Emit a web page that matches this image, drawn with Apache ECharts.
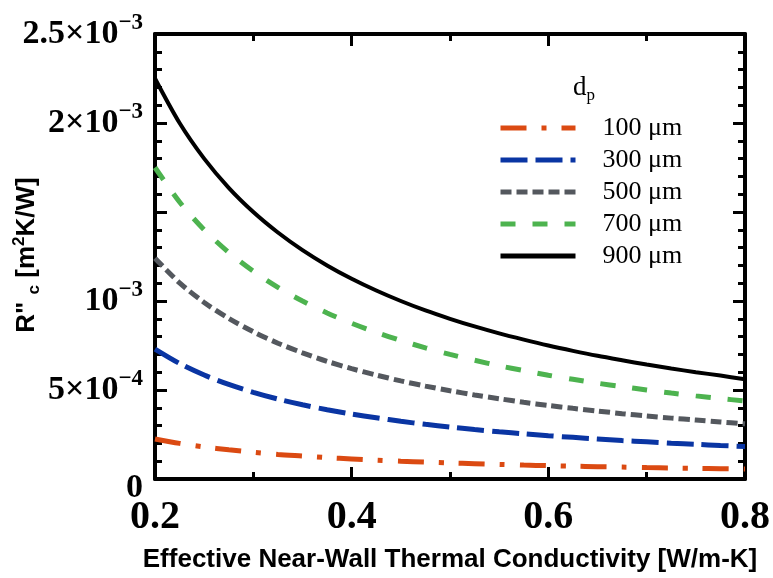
<!DOCTYPE html>
<html>
<head>
<meta charset="utf-8">
<script src="https://cdn.jsdelivr.net/npm/echarts@6/dist/echarts.min.js"></script>
<style>html,body{margin:0;padding:0;background:#fff;}#c{width:773px;height:578px;}</style>
</head>
<body>
<div id="c"></div>
<script>
var kValues = [0.2, 0.225, 0.25, 0.275, 0.3, 0.325, 0.35, 0.375, 0.4, 0.425, 0.45, 0.475, 0.5, 0.525, 0.55, 0.575, 0.6, 0.625, 0.65, 0.675, 0.7, 0.725, 0.75, 0.775, 0.8];
var r100 = [2.25e-4, 2.0e-4, 1.8e-4, 1.64e-4, 1.5e-4, 1.38e-4, 1.29e-4, 1.2e-4, 1.13e-4, 1.06e-4, 1.0e-4, 9.5e-5, 9.0e-5, 8.6e-5, 8.2e-5, 7.8e-5, 7.5e-5, 7.2e-5, 6.9e-5, 6.7e-5, 6.4e-5, 6.2e-5, 6.0e-5, 5.8e-5, 5.6e-5];
var r300 = [7.30e-4, 6.49e-4, 5.84e-4, 5.31e-4, 4.87e-4, 4.49e-4, 4.17e-4, 3.89e-4, 3.65e-4, 3.44e-4, 3.24e-4, 3.07e-4, 2.92e-4, 2.78e-4, 2.65e-4, 2.54e-4, 2.43e-4, 2.34e-4, 2.25e-4, 2.16e-4, 2.09e-4, 2.01e-4, 1.95e-4, 1.88e-4, 1.83e-4];
var r500 = [1.24e-3, 1.102e-3, 9.92e-4, 9.02e-4, 8.27e-4, 7.63e-4, 7.09e-4, 6.61e-4, 6.20e-4, 5.84e-4, 5.51e-4, 5.22e-4, 4.96e-4, 4.72e-4, 4.51e-4, 4.31e-4, 4.13e-4, 3.97e-4, 3.82e-4, 3.67e-4, 3.54e-4, 3.42e-4, 3.31e-4, 3.20e-4, 3.10e-4];
var r700 = [1.75e-3, 1.556e-3, 1.40e-3, 1.273e-3, 1.167e-3, 1.077e-3, 1.0e-3, 9.33e-4, 8.75e-4, 8.24e-4, 7.78e-4, 7.37e-4, 7.0e-4, 6.67e-4, 6.36e-4, 6.09e-4, 5.83e-4, 5.6e-4, 5.38e-4, 5.19e-4, 5.0e-4, 4.83e-4, 4.67e-4, 4.52e-4, 4.38e-4];
var r900 = [2.25e-3, 2.0e-3, 1.80e-3, 1.636e-3, 1.50e-3, 1.385e-3, 1.286e-3, 1.20e-3, 1.125e-3, 1.059e-3, 1.0e-3, 9.47e-4, 9.0e-4, 8.57e-4, 8.18e-4, 7.83e-4, 7.5e-4, 7.2e-4, 6.92e-4, 6.67e-4, 6.43e-4, 6.21e-4, 6.0e-4, 5.81e-4, 5.6e-4];
var seriesNames = ['100 \u03bcm', '300 \u03bcm', '500 \u03bcm', '700 \u03bcm', '900 \u03bcm'];
var xTickLabels = ['0.2', '0.4', '0.6', '0.8'];
var yTickLabels = {0: '{z|0}', 5: '{m|5\u00d710}{s|\u22124}', 10: '{m|10}{s|\u22123}', 15: '', 20: '{m|2\u00d710}{s|\u22123}', 25: '{m|2.5\u00d710}{s|\u22123}'};

function pairs(arr) { return kValues.map(function (k, i) { return [k, arr[i]]; }); }

var chart = echarts.init(document.getElementById('c'), null, {renderer: 'canvas'});
var serif = '"Liberation Serif", "Times New Roman", serif';
var sans = '"Liberation Sans", Arial, sans-serif';
var tickCommon = {show: true, inside: true, length: 12, lineStyle: {color: '#000', width: 3}};
var minorCommon = {show: true, length: 7, lineStyle: {color: '#000', width: 3}};
var lineCommon = {show: true, onZero: false, lineStyle: {color: '#000', width: 4}};

var styles = [
  {color: '#DB4A12', width: 5, type: [26, 15, 5, 15]},
  {color: '#0A35A3', width: 5, type: [27, 8]},
  {color: '#54585E', width: 5, type: [11, 5]},
  {color: '#4DB34F', width: 5, type: [15, 17]},
  {color: '#000000', width: 4, type: 'solid'}
];
var dataSets = [r100, r300, r500, r700, r900];

chart.setOption({
  animation: false,
  backgroundColor: '#fff',
  grid: {left: 155, right: 25, top: 34, bottom: 91, containLabel: false},
  xAxis: [{
    type: 'value', min: 0.2, max: 0.8, interval: 0.2,
    axisLine: lineCommon, axisTick: tickCommon,
    minorTick: Object.assign({splitNumber: 2}, minorCommon),
    splitLine: {show: false},
    axisLabel: {margin: 19, fontFamily: serif, fontWeight: 'bold', fontSize: 40, color: '#000',
      formatter: function (v) { var i = Math.round((v - 0.2) / 0.2); return xTickLabels[i] || ''; }},
    name: 'Effective Near-Wall Thermal Conductivity [W/m-K]', nameLocation: 'middle', nameGap: 68,
    nameTextStyle: {fontFamily: sans, fontWeight: 'bold', fontSize: 26, color: '#000'}
  }, {
    type: 'value', min: 0.2, max: 0.8, interval: 0.2, position: 'top',
    axisLine: lineCommon, axisTick: tickCommon,
    minorTick: Object.assign({splitNumber: 2}, minorCommon),
    splitLine: {show: false}, axisLabel: {show: false}
  }],
  yAxis: [{
    type: 'value', min: 0, max: 2.5e-3, interval: 5e-4,
    axisLine: lineCommon, axisTick: tickCommon,
    minorTick: Object.assign({splitNumber: 5}, minorCommon),
    splitLine: {show: false},
    axisLabel: {margin: 12, color: '#000',
      formatter: function (v) { var i = Math.round(v * 1e4); return yTickLabels[i] !== undefined ? yTickLabels[i] : ''; },
      rich: {
        m: {fontFamily: serif, fontWeight: 'bold', fontSize: 34, lineHeight: 44, verticalAlign: 'middle', color: '#000'},
        z: {fontFamily: serif, fontWeight: 'bold', fontSize: 34, lineHeight: 44, verticalAlign: 'middle', color: '#000', padding: [18, 0, 0, 0]},
        s: {fontFamily: serif, fontWeight: 'bold', fontSize: 23, lineHeight: 22, verticalAlign: 'top', color: '#000'}
      },
      fontFamily: serif, fontWeight: 'bold', fontSize: 34
    }
  }, {
    type: 'value', min: 0, max: 2.5e-3, interval: 5e-4, position: 'right',
    axisLine: lineCommon, axisTick: tickCommon,
    minorTick: Object.assign({splitNumber: 5}, minorCommon),
    splitLine: {show: false}, axisLabel: {show: false}
  }],
  legend: {
    orient: 'vertical', left: 493, top: 110, itemWidth: 75, itemHeight: 10, itemGap: 6,
    itemStyle: {opacity: 0},
    data: seriesNames.map(function (n, i) {
      return {name: n, lineStyle: {color: styles[i].color, width: i === 4 ? 5 : styles[i].width, type: styles[i].type, cap: 'butt'}};
    }),
    textStyle: {fontFamily: serif, fontSize: 26, lineHeight: 25, color: '#000', padding: [0, 0, 0, 22]}
  },
  graphic: [
    {type: 'text', left: 573, top: 74, style: {rich: {d: {fontFamily: serif, fontSize: 27, fill: '#000'}, p: {fontFamily: serif, fontSize: 17, fill: '#000', verticalAlign: 'bottom', lineHeight: 34}}, text: '{d|d}{p|p}'}},
    {type: 'text', x: 27, y: 255, rotation: Math.PI / 2, style: {
      text: '{a|R" }{b|c}{a| [m}{c|2}{a|K/W]}', align: 'center', verticalAlign: 'middle',
      rich: {
        a: {fontFamily: sans, fontWeight: 'bold', fontSize: 26, lineHeight: 32, fill: '#000', verticalAlign: 'middle'},
        b: {fontFamily: sans, fontWeight: 'bold', fontSize: 17, lineHeight: 20, fill: '#000', verticalAlign: 'bottom'},
        c: {fontFamily: sans, fontWeight: 'bold', fontSize: 17, lineHeight: 20, fill: '#000', verticalAlign: 'top'}
      }}}
  ],
  series: dataSets.map(function (d, i) {
    return {
      name: seriesNames[i], type: 'line', smooth: 0.3, symbol: 'none', showSymbol: false,
      xAxisIndex: 0, yAxisIndex: 0,
      data: pairs(d),
      lineStyle: {color: styles[i].color, width: styles[i].width, type: styles[i].type, cap: 'butt'},
      itemStyle: {color: styles[i].color}
    };
  })
});
</script>
</body>
</html>
